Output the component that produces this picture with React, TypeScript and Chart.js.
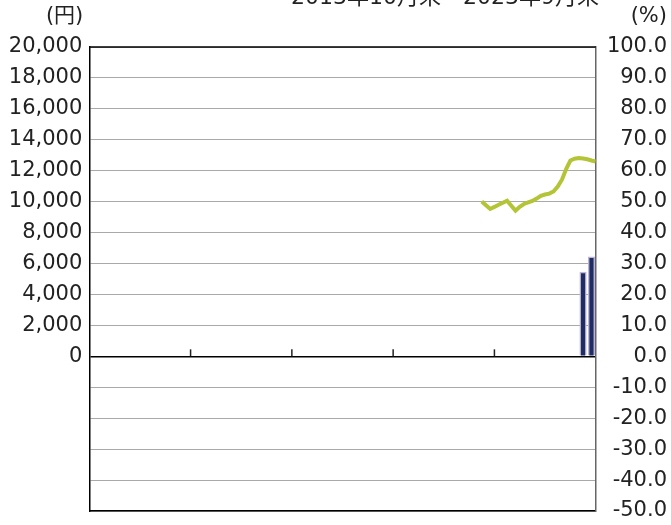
import React, { useEffect, useRef } from "react";
import { Chart, registerables } from "chart.js";

Chart.register(...registerables);

// x = months elapsed since the start of the period (2013年10月末 … 2023年9月末)
const lineMonths = [93, 94, 95, 96, 97, 98, 99, 100, 101, 102, 103, 104, 105, 106, 107, 108, 109, 110, 111, 112, 113, 114, 115, 116, 117, 118, 119, 120];
const lineValues = [10010, 9770, 9530, 9660, 9800, 9930, 10060, 9740, 9420, 9670, 9850, 9950, 10050, 10200, 10380, 10460, 10520, 10660, 10980, 11420, 12110, 12660, 12780, 12820, 12790, 12740, 12660, 12590];
const barMonths = [117, 119];
const barValues = [5450, 6440];
const xTickMonths = [24, 48, 72, 96];
const titleText = "2013年10月末～2023年9月末";
const leftUnit = "(円)";
const rightUnit = "(%)";

const FONT = "'DejaVu Sans', 'Noto Sans CJK JP', sans-serif";

export default function App() {
  const ref = useRef<HTMLCanvasElement | null>(null);

  useEffect(() => {
    document.body.style.margin = "0";
    if (!ref.current) return;

    const overlay = {
      id: "overlay",
      afterDraw(chart: any) {
        const { ctx, chartArea, scales } = chart;
        const x = scales.x;
        const y = scales.y;
        ctx.save();
        // top border
        ctx.strokeStyle = "#000";
        ctx.lineWidth = 1.5;
        ctx.beginPath();
        ctx.moveTo(chartArea.left, chartArea.top);
        ctx.lineTo(chartArea.right, chartArea.top);
        ctx.stroke();
        // zero line + tick marks
        const y0 = y.getPixelForValue(0);
        ctx.strokeStyle = "#222";
        ctx.lineWidth = 1.5;
        xTickMonths.forEach((m) => {
          const px = x.getPixelForValue(m);
          ctx.beginPath();
          ctx.moveTo(px, y0);
          ctx.lineTo(px, y0 - 7);
          ctx.stroke();
        });
        // unit labels and title
        ctx.fillStyle = "#222";
        ctx.font = `21px ${FONT}`;
        ctx.textBaseline = "middle";
        ctx.textAlign = "right";
        ctx.fillText(leftUnit, chartArea.left - 6, 17);
        ctx.fillText(rightUnit, chart.width - 4, 17);
        ctx.font = `22px ${FONT}`;
        ctx.textAlign = "center";
        ctx.textBaseline = "alphabetic";
        ctx.fillText(titleText, 445, 4);
        ctx.restore();
      },
    };

    const chart = new Chart(ref.current, {
      type: "bar",
      data: {
        datasets: [
          {
            type: "line",
            label: "基準価額",
            data: lineMonths.map((m, i) => ({ x: m, y: lineValues[i] })),
            borderColor: "#b4c437",
            borderWidth: 4,
            pointRadius: 0,
            tension: 0,
            yAxisID: "y",
            order: 1,
          } as any,
          {
            type: "bar",
            label: "bar",
            data: barMonths.map((m, i) => ({ x: m, y: barValues[i] })),
            backgroundColor: "#1f2d62",
            borderColor: "#bdb5d6",
            borderWidth: 1.5,
            barThickness: 6.5,
            yAxisID: "y",
            order: 2,
          } as any,
        ],
      },
      options: {
        animation: false,
        responsive: true,
        maintainAspectRatio: false,
        layout: { padding: { top: 47, bottom: 14, left: 0, right: 4 } },
        plugins: { legend: { display: false }, tooltip: { enabled: false } },
        scales: {
          x: {
            type: "linear",
            min: 0,
            max: 120,
            offset: false,
            ticks: { display: false, stepSize: 24 },
            grid: { display: false, drawTicks: false, offset: false },
            border: { display: true, color: "#000", width: 1.5 },
            afterFit: (s: any) => {
              s.height = 0;
            },
          },
          y: {
            position: "left",
            min: -10000,
            max: 20000,
            ticks: {
              stepSize: 2000,
              autoSkip: false,
              padding: 0,
              color: "#222",
              font: { family: FONT, size: 21 },
              callback: (v: any) => (v < 0 ? "" : Number(v).toLocaleString("en-US")),
            },
            grid: {
              drawTicks: true,
              tickLength: 7,
              tickColor: "rgba(0,0,0,0)",
              color: (c: any) => (c.tick && c.tick.value === 0 ? "#000" : "#a9a9a9"),
              lineWidth: (c: any) => (c.tick && c.tick.value === 0 ? 1.5 : 1),
            },
            border: { display: true, color: "#000", width: 1.5 },
            afterFit: (s: any) => {
              s.width = 89.3;
            },
          },
          y1: {
            position: "right",
            min: -50,
            max: 100,
            ticks: {
              stepSize: 10,
              autoSkip: false,
              crossAlign: "far",
              padding: 0,
              color: "#222",
              font: { family: FONT, size: 21 },
              callback: (v: any) => Number(v).toFixed(1),
            },
            grid: { display: false, drawTicks: false },
            border: { display: true, color: "#666", width: 1.5 },
            afterFit: (s: any) => {
              s.width = 71.3;
            },
          },
        },
      } as any,
      plugins: [overlay],
    });

    return () => chart.destroy();
  }, []);

  return (
    <div style={{ width: 671, height: 525, position: "relative" }}>
      <canvas ref={ref} />
    </div>
  );
}
